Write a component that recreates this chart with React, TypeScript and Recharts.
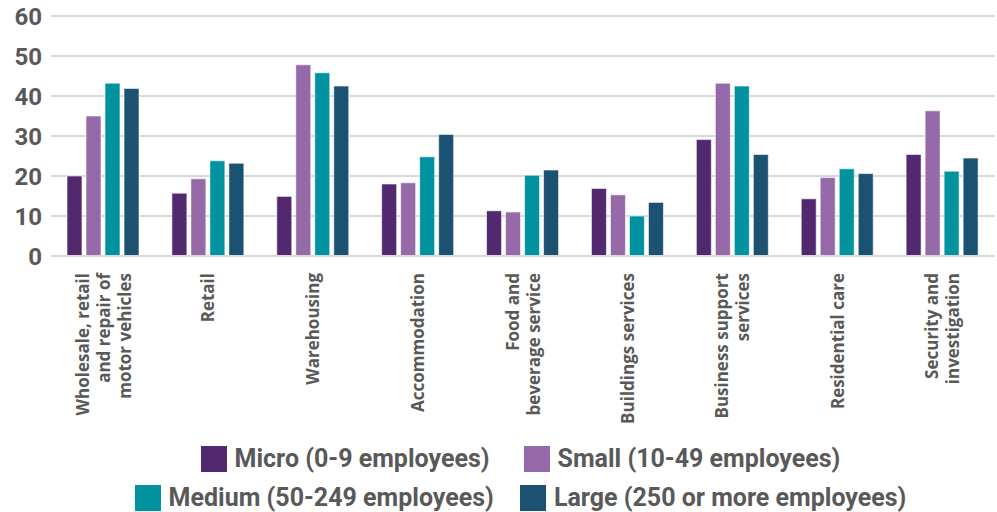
import {
  BarChart,
  Bar,
  XAxis,
  YAxis,
  CartesianGrid,
  Legend,
} from "recharts";

const categories = [
  "Wholesale, retail|and repair of|motor vehicles",
  "Retail",
  "Warehousing",
  "Accommodation",
  "Food and|beverage service",
  "Buildings services",
  "Business support|services",
  "Residential care",
  "Security and|investigation",
];

const micro = [20, 15.7, 14.9, 18, 11.3, 16.9, 29.1, 14.3, 25.4];
const small = [35, 19.3, 47.8, 18.3, 11, 15.3, 43.2, 19.6, 36.3];
const medium = [43.2, 23.8, 45.8, 24.8, 20.2, 10, 42.5, 21.8, 21.2];
const large = [41.9, 23.2, 42.5, 30.4, 21.5, 13.4, 25.4, 20.6, 24.5];

const yTicks = [0, 10, 20, 30, 40, 50, 60];

const series = [
  { key: "micro", name: "Micro (0-9 employees)", color: "#52296e" },
  { key: "small", name: "Small (10-49 employees)", color: "#9669a8" },
  { key: "medium", name: "Medium (50-249 employees)", color: "#00929f" },
  { key: "large", name: "Large (250 or more employees)", color: "#1b5272" },
];

const data = categories.map((c, i) => ({
  category: c,
  micro: micro[i],
  small: small[i],
  medium: medium[i],
  large: large[i],
}));

const TEXT = "#595959";

// rotated multi-line category labels, lines split on "|"
const CategoryTick = ({ x, y, payload }: any) => {
  const lines = String(payload.value).split("|");
  const lh = 21;
  const fs = 17;
  return (
    <g transform={`translate(${x},${y + 9}) rotate(-90)`}>
      {lines.map((line, i) => (
        <text
          key={i}
          x={0}
          y={(i - (lines.length - 1) / 2) * lh + fs * 0.36}
          textAnchor="end"
          fill={TEXT}
          fontSize={fs}
          fontWeight={700}
          fontFamily="'Open Sans', sans-serif"
        >
          {line}
        </text>
      ))}
    </g>
  );
};

const LegendItem = ({ name, color }: { name: string; color: string }) => (
  <div style={{ display: "flex", alignItems: "center" }}>
    <span
      style={{
        width: 26,
        height: 26,
        background: color,
        display: "inline-block",
        marginRight: 8,
      }}
    />
    <span>{name}</span>
  </div>
);

const ChartLegend = () => (
  <div
    style={{
      fontFamily: "Roboto, sans-serif",
      fontWeight: 700,
      fontSize: 25,
      color: TEXT,
      lineHeight: "26px",
      paddingTop: 5,
      paddingLeft: 46,
    }}
  >
    <div style={{ display: "flex", justifyContent: "center", gap: 34, height: 40, alignItems: "center" }}>
      <LegendItem name={series[0].name} color={series[0].color} />
      <LegendItem name={series[1].name} color={series[1].color} />
    </div>
    <div style={{ display: "flex", justifyContent: "center", gap: 26, height: 38, alignItems: "center" }}>
      <LegendItem name={series[2].name} color={series[2].color} />
      <LegendItem name={series[3].name} color={series[3].color} />
    </div>
  </div>
);

export default function App() {
  return (
    <div style={{ position: "absolute", left: 0, top: 0, width: 997, height: 512, background: "#fff" }}>
      <BarChart
        width={997}
        height={512}
        data={data}
        margin={{ top: 16, right: 2, left: 0, bottom: 0 }}
        barSize={15}
        barGap={4}
      >
        <CartesianGrid vertical={false} stroke="#d9d9d9" strokeWidth={2} />
        <XAxis
          dataKey="category"
          interval={0}
          height={178}
          tick={<CategoryTick />}
          tickLine={false}
          axisLine={{ stroke: "#d9d9d9", strokeWidth: 2 }}
        />
        <YAxis
          domain={[0, 60]}
          ticks={yTicks}
          width={51}
          tickSize={0}
          tickMargin={9}
          tickLine={false}
          axisLine={false}
          tick={{ fill: TEXT, fontSize: 24, fontWeight: 700, fontFamily: "Roboto, sans-serif" }}
        />
        <Legend verticalAlign="bottom" height={78} content={() => <ChartLegend />} />
        {series.map((s) => (
          <Bar
            key={s.key}
            dataKey={s.key}
            name={s.name}
            fill={s.color}
            stroke="#ffffff"
            strokeOpacity={0.6}
            strokeWidth={1}
            isAnimationActive={false}
          />
        ))}
      </BarChart>
    </div>
  );
}
